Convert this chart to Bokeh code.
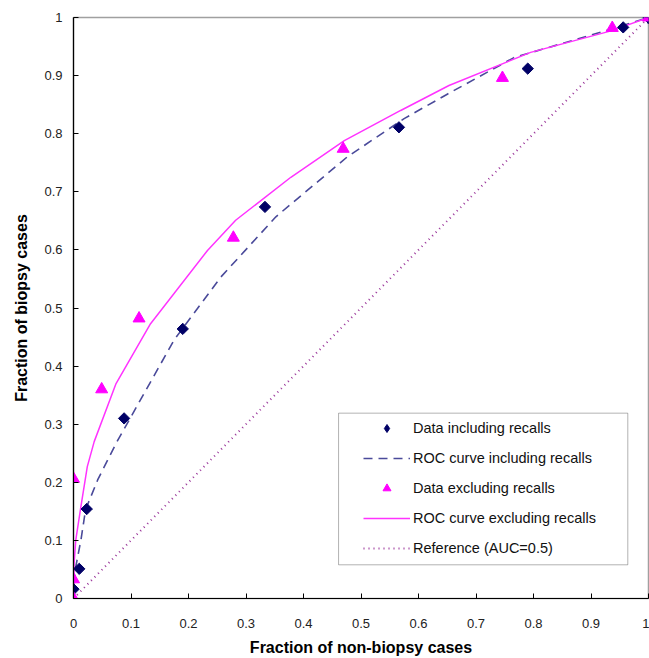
from bokeh.plotting import figure
from bokeh.models import FixedTicker, Range1d, Legend, LegendItem, BoxAnnotation
from bokeh.embed import file_html
from bokeh.resources import INLINE

# ---- data ----
ticks = [0, 0.1, 0.2, 0.3, 0.4, 0.5, 0.6, 0.7, 0.8, 0.9, 1]
tick_labels = ["0", "0.1", "0.2", "0.3", "0.4", "0.5", "0.6", "0.7", "0.8", "0.9", "1"]

incl_x = [1, 0, 0.01, 0.023, 0.088, 0.19, 0.333, 0.566, 0.79, 0.956]
incl_y = [1, 0.016, 0.051, 0.154, 0.31, 0.464, 0.674, 0.811, 0.912, 0.983]

incl_roc_x = [0, 0.001, 0.004, 0.013, 0.021, 0.042, 0.074, 0.175, 0.256, 0.352, 0.476, 0.575, 0.650, 0.766, 0.935, 1]
incl_roc_y = [0, 0.03, 0.055, 0.101, 0.153, 0.204, 0.267, 0.445, 0.553, 0.657, 0.760, 0.826, 0.868, 0.931, 0.980, 1]

excl_x = [0, 0, 0, 0.049, 0.114, 0.278, 0.469, 0.746, 0.937, 1]
excl_y = [0, 0.033, 0.206, 0.36, 0.482, 0.621, 0.774, 0.896, 0.982, 1]

excl_roc_x = [0, 0.001, 0.004, 0.013, 0.024, 0.036, 0.074, 0.134, 0.233, 0.282, 0.378, 0.471, 0.569, 0.653, 0.795, 0.935, 1]
excl_roc_y = [0, 0.06, 0.101, 0.159, 0.227, 0.27, 0.370, 0.473, 0.599, 0.651, 0.725, 0.788, 0.840, 0.883, 0.940, 0.977, 1]

ref_x = [0, 1]
ref_y = [0, 1]

labels = ["Data including recalls", "ROC curve including recalls",
          "Data excluding recalls", "ROC curve excluding recalls",
          "Reference (AUC=0.5)"]

# ---- figure ----
p = figure(width=649, height=658, output_backend="svg", toolbar_location=None,
           x_range=Range1d(0, 1), y_range=Range1d(0, 1),
           min_border_left=73, min_border_right=1, min_border_top=17, min_border_bottom=59)
p.xgrid.visible = False
p.ygrid.visible = False
p.outline_line_color = "#a0a0a0"
p.outline_line_width = 1.5

for ax in (p.xaxis[0], p.yaxis[0]):
    ax.ticker = FixedTicker(ticks=ticks, minor_ticks=[])
    ax.major_label_overrides = {t: l for t, l in zip(ticks, tick_labels)}
    ax.major_tick_in = 5
    ax.major_tick_out = 0
    ax.minor_tick_line_color = None
    ax.axis_line_color = "black"
    ax.axis_line_width = 1.2
    ax.major_tick_line_color = "black"
    ax.major_label_text_font = "Liberation Sans"
    ax.major_label_text_font_size = "13px"
    ax.major_label_text_color = "#222222"
    ax.axis_label_text_font = "Liberation Sans"
    ax.axis_label_text_font_size = "16px"
    ax.axis_label_text_font_style = "bold"
    ax.axis_label_text_color = "black"

p.xaxis.axis_label = "Fraction of non-biopsy cases"
p.yaxis.axis_label = "Fraction of biopsy cases"
p.xaxis.major_label_standoff = 20
p.xaxis.axis_label_standoff = 8
p.yaxis.major_label_standoff = 11
p.yaxis.axis_label_standoff = 11

r_ref = p.line(ref_x, ref_y, line_color="#993399", line_width=2, line_dash="1 4")
r_incl_roc = p.line(incl_roc_x, incl_roc_y, line_color="#4a4a9a", line_width=1.6, line_dash="9 6")
r_excl_roc = p.line(excl_roc_x, excl_roc_y, line_color="#ff33ff", line_width=1.5)
r_incl = p.scatter(incl_x, incl_y, marker="square", angle=0.785398, size=8,
                   fill_color="#000066", line_color="#000066")
# legend swatch for the diamonds: the (1,1) point drawn as an upright diamond
r_incl_key = p.scatter(incl_x[:1], incl_y[:1], marker="diamond", size=13,
                       fill_color="#000066", line_color="#000066")
r_excl = p.scatter(excl_x, excl_y, marker="triangle", size=12, fill_color="#ff00ff", line_color="#ff00ff")

box = BoxAnnotation(left=0.461, right=0.964, bottom=0.058, top=0.319,
                    fill_color="white", fill_alpha=1, line_color="black", line_width=1, level="annotation")
p.add_layout(box)

legend = Legend(items=[LegendItem(label=labels[0], renderers=[r_incl_key]),
                       LegendItem(label=labels[1], renderers=[r_incl_roc]),
                       LegendItem(label=labels[2], renderers=[r_excl]),
                       LegendItem(label=labels[3], renderers=[r_excl_roc]),
                       LegendItem(label=labels[4], renderers=[r_ref])],
                location=(265, 15), padding=25, spacing=10,
                glyph_width=47, glyph_height=20, label_height=20, label_standoff=3,
                label_text_font="Liberation Sans", label_text_font_size="14.5px",
                label_text_color="#111111",
                border_line_alpha=0, background_fill_alpha=0)
p.add_layout(legend)

open("out.html", "w").write(file_html(p, INLINE))
